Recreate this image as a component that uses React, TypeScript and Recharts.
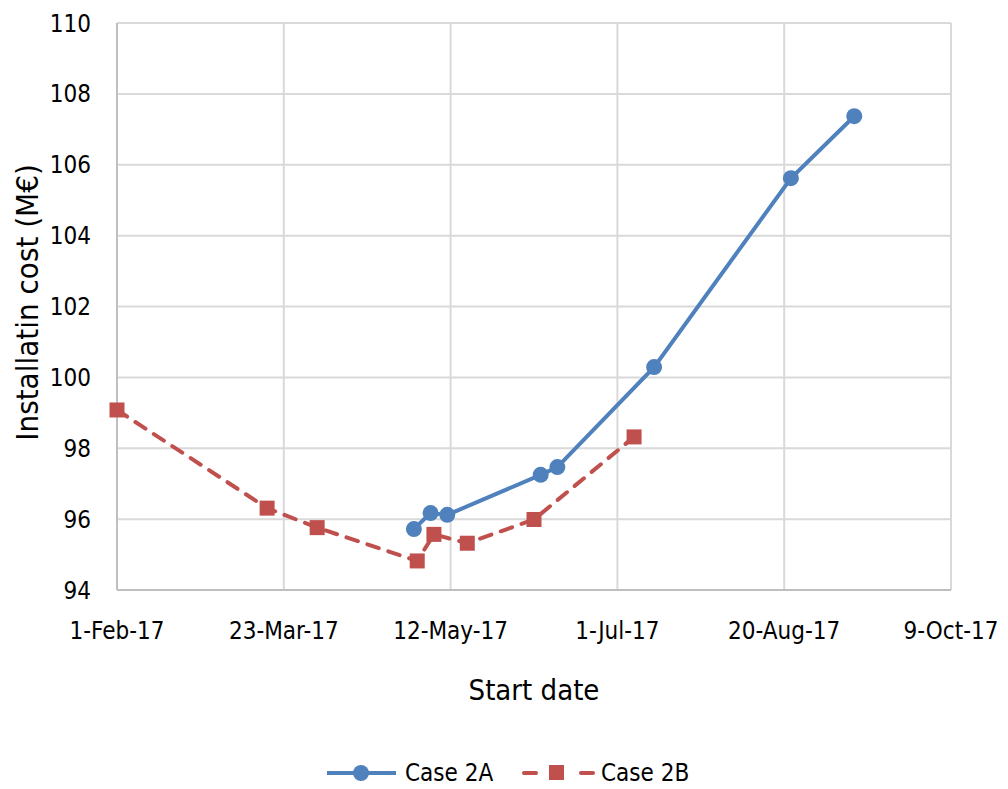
import React from 'react';
import { LineChart, Line, XAxis, YAxis, CartesianGrid, Customized } from 'recharts';

const tickDays = [0, 50, 100, 150, 200, 250];
const tickLabels = ['1-Feb-17', '23-Mar-17', '12-May-17', '1-Jul-17', '20-Aug-17', '9-Oct-17'];
const yTicks = [94, 96, 98, 100, 102, 104, 106, 108, 110];

const case2ADays = [89, 94, 99, 127, 132, 161, 202, 221];
const case2AValues = [95.72, 96.17, 96.12, 97.25, 97.47, 100.29, 105.62, 107.37];

const case2BDays = [0, 45, 60, 90, 95, 105, 125, 155];
const case2BValues = [99.08, 96.31, 95.76, 94.82, 95.57, 95.32, 95.99, 98.32];

const dataA = case2ADays.map((d, i) => ({ day: d, value: case2AValues[i] }));
const dataB = case2BDays.map((d, i) => ({ day: d, value: case2BValues[i] }));

const BLUE = '#4f81bd';
const RED = '#c0504d';
const FONT = '"Liberation Sans Narrow", "DejaVu Sans Condensed", Arial, sans-serif';

const CircleDot = (props: any) => {
  const { cx, cy, index } = props;
  if (cx == null || cy == null) return null;
  return <circle key={'a' + index} cx={cx} cy={cy} r={8} fill={BLUE} stroke="none" />;
};

const SquareDot = (props: any) => {
  const { cx, cy, index } = props;
  if (cx == null || cy == null) return null;
  return <rect key={'b' + index} x={cx - 7.5} y={cy - 7.5} width={15} height={15} fill={RED} stroke="none" />;
};

const LegendLayer = () => (
  <g fontFamily={FONT} fontSize={24} fill="#000">
    <line x1={327} y1={773} x2={396} y2={773} stroke={BLUE} strokeWidth={4} />
    <circle cx={361} cy={773} r={8} fill={BLUE} />
    <text x={405} y={781}>Case 2A</text>
    <line x1={524} y1={773} x2={536} y2={773} stroke={RED} strokeWidth={4} strokeLinecap="round" />
    <rect x={549} y={765} width={15} height={15} fill={RED} />
    <line x1={581} y1={773} x2={593} y2={773} stroke={RED} strokeWidth={4} strokeLinecap="round" />
    <text x={601} y={781}>Case 2B</text>
  </g>
);

export default function App() {
  return (
    <div style={{ position: 'absolute', left: 0, top: 0, background: '#fff' }}>
      <LineChart width={1008} height={789} margin={{ top: 23, right: 57, left: 0, bottom: 139 }}>
        <CartesianGrid stroke="#d9d9d9" strokeWidth={2} />
        <XAxis
          type="number"
          dataKey="day"
          domain={[0, 250]}
          ticks={tickDays}
          tickFormatter={(v: number) => tickLabels[tickDays.indexOf(v)] ?? ''}
          axisLine={{ stroke: '#bfbfbf', strokeWidth: 2 }}
          tickLine={false}
          tickSize={0}
          tickMargin={32}
          height={60}
          tick={{ fill: '#000', fontSize: 24, fontFamily: FONT }}
          allowDuplicatedCategory={false}
          label={{ value: 'Start date', position: 'insideBottom', offset: -50, fill: '#000', fontSize: 29, fontFamily: FONT }}
        />
        <YAxis
          type="number"
          domain={[94, 110]}
          ticks={yTicks}
          width={117}
          axisLine={{ stroke: '#bfbfbf', strokeWidth: 2 }}
          tickLine={false}
          tickSize={0}
          tickMargin={26}
          tick={{ fill: '#000', fontSize: 24, fontFamily: FONT }}
          label={{ value: 'Installatin cost (M€)', angle: -90, position: 'insideLeft', offset: 0, dx: 27, dy: -4, fill: '#000', fontSize: 31, fontFamily: FONT, style: { textAnchor: 'middle' } }}
        />
        <Line
          data={dataB}
          dataKey="value"
          type="linear"
          stroke={RED}
          strokeWidth={4}
          strokeDasharray="12 10"
          strokeLinecap="round"
          dot={SquareDot}
          activeDot={false}
          isAnimationActive={false}
          name="Case 2B"
        />
        <Line
          data={dataA}
          dataKey="value"
          type="linear"
          stroke={BLUE}
          strokeWidth={4}
          dot={CircleDot}
          activeDot={false}
          isAnimationActive={false}
          name="Case 2A"
        />
        <Customized component={LegendLayer} />
      </LineChart>
    </div>
  );
}
